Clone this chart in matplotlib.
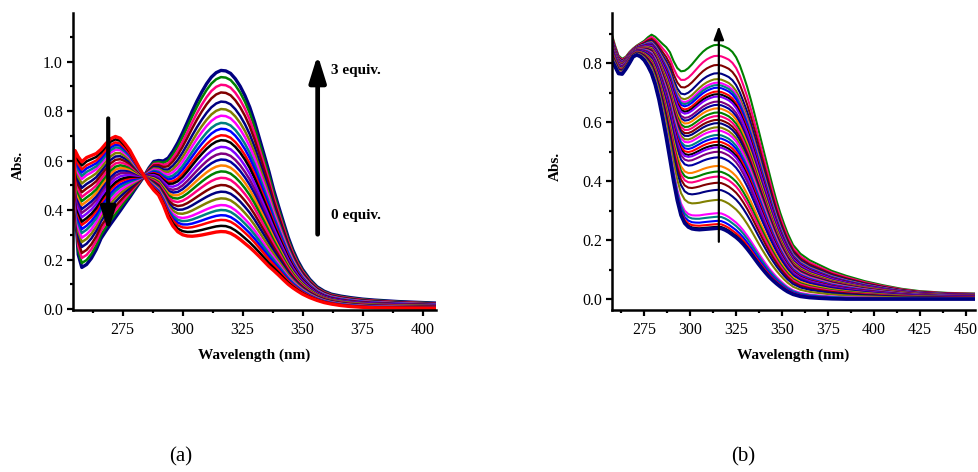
import matplotlib
matplotlib.use("Agg")
import matplotlib.pyplot as plt
import numpy as np
from matplotlib.ticker import FormatStrFormatter, FixedLocator

plt.rcParams['font.family'] = ['Liberation Serif', 'DejaVu Serif']

# ---------------- data: panel (a) ----------------
wl_a = [254.2, 255.2, 256.5, 258, 260, 262, 264, 266, 268, 270,
        272, 274, 276, 278, 280, 282, 284, 286, 288, 290,
        292, 294, 296, 298, 300, 302, 304, 306, 308, 310,
        312, 314, 316, 318, 320, 322, 324, 326, 328, 330,
        332, 334, 336, 338, 340, 342, 344, 346, 348, 350,
        353, 356, 359, 362, 366, 370, 375, 380, 390, 405.5]
# 0 equiv. spectrum (red, lowest at 316 nm)
abs_a_0eq = [0.32, 0.64, 0.615, 0.595, 0.612, 0.62, 0.628, 0.645, 0.668, 0.688,
             0.697, 0.690, 0.668, 0.642, 0.606, 0.570, 0.537, 0.505, 0.480, 0.46,
             0.42, 0.37, 0.335, 0.312, 0.300, 0.295, 0.294, 0.296, 0.299, 0.303,
             0.307, 0.311, 0.313, 0.312, 0.306, 0.295, 0.281, 0.265, 0.249, 0.231,
             0.212, 0.192, 0.172, 0.155, 0.137, 0.118, 0.10, 0.085, 0.072, 0.06,
             0.046, 0.035, 0.026, 0.02, 0.014, 0.01, 0.007, 0.005, 0.004, 0.003]
# 3 equiv. spectrum (navy, highest at 316 nm)
abs_a_3eq = [0.70, 0.42, 0.22, 0.168, 0.18, 0.205, 0.24, 0.285, 0.315, 0.343,
             0.37, 0.397, 0.425, 0.452, 0.481, 0.509, 0.537, 0.570, 0.596, 0.600,
             0.598, 0.610, 0.638, 0.672, 0.712, 0.755, 0.799, 0.840, 0.877, 0.910,
             0.937, 0.955, 0.964, 0.962, 0.952, 0.930, 0.900, 0.862, 0.815, 0.757,
             0.69, 0.623, 0.555, 0.48, 0.415, 0.352, 0.29, 0.238, 0.195, 0.16,
             0.12, 0.09, 0.072, 0.06, 0.052, 0.046, 0.04, 0.036, 0.03, 0.024]
# absorbance of every titration curve at 316 nm (bottom -> top)
peak_a = [0.313, 0.336, 0.360, 0.379, 0.400, 0.420, 0.447, 0.474, 0.501, 0.530,
          0.556, 0.580, 0.604, 0.628, 0.655, 0.682, 0.702, 0.728, 0.752, 0.781,
          0.808, 0.838, 0.875, 0.906, 0.937, 0.964]

# ---------------- data: panel (b) ----------------
wl_b = [257.3, 259, 261, 263, 265, 267, 269, 271, 273, 275,
        277, 279, 281, 283, 285, 287, 289, 291, 293, 295,
        297, 299, 301, 303, 305, 307, 309, 311, 313, 315,
        317, 319, 321, 323, 325, 327, 329, 331, 333, 335,
        337, 339, 341, 343, 345, 347, 349, 351, 353, 356,
        360, 365, 370, 377, 385, 395, 405, 415, 425, 440, 455]
abs_b_start = [0.81, 0.79, 0.765, 0.763, 0.78, 0.80, 0.822, 0.828, 0.822, 0.81,
               0.79, 0.765, 0.727, 0.677, 0.615, 0.548, 0.475, 0.40, 0.335, 0.285,
               0.258, 0.245, 0.239, 0.237, 0.236, 0.237, 0.238, 0.239, 0.240, 0.241,
               0.240, 0.235, 0.228, 0.219, 0.21, 0.199, 0.186, 0.171, 0.155, 0.138,
               0.121, 0.105, 0.09, 0.076, 0.064, 0.053, 0.043, 0.034, 0.026, 0.017,
               0.01, 0.006, 0.004, 0.002, 0.001, 0.001, 0.001, 0.001, 0.001, 0.001, 0.001]
abs_b_end = [0.90, 0.862, 0.826, 0.815, 0.822, 0.838, 0.85, 0.86, 0.868, 0.876,
             0.888, 0.897, 0.89, 0.878, 0.866, 0.855, 0.838, 0.808, 0.785, 0.774,
             0.776, 0.785, 0.798, 0.813, 0.828, 0.841, 0.851, 0.858, 0.863, 0.864,
             0.862, 0.857, 0.851, 0.84, 0.822, 0.795, 0.76, 0.722, 0.678, 0.63,
             0.58, 0.53, 0.48, 0.43, 0.381, 0.335, 0.294, 0.258, 0.225, 0.185,
             0.155, 0.133, 0.118, 0.097, 0.08, 0.062, 0.048, 0.036, 0.028, 0.022, 0.02]
peak_b = [0.241, 0.246, 0.255, 0.266, 0.280, 0.292, 0.337, 0.371, 0.395, 0.416,
          0.433, 0.452, 0.481, 0.500, 0.515, 0.523, 0.534, 0.546, 0.557, 0.572,
          0.583, 0.597, 0.608, 0.621, 0.633, 0.647, 0.659, 0.670, 0.687, 0.695,
          0.704, 0.717, 0.726, 0.734, 0.746, 0.766, 0.794, 0.825, 0.862]

cycle = ['#000000', '#FF0000', '#0000FF', '#008080', '#FF00FF', '#808000',
         '#000080', '#800000', '#FF0080', '#008000', '#FF8000', '#0000A0',
         '#800080', '#8000FF']

W, H = 979, 472
fig = plt.figure(figsize=(W / 100, H / 100), dpi=100)
axa = fig.add_axes([72.7 / W, 1 - 310 / H, 363 / W, 297 / H])
axb = fig.add_axes([611.7 / W, 1 - 310 / H, 363.3 / W, 297 / H])


def family(lo, hi, peaks, idx):
    lo = np.asarray(lo); hi = np.asarray(hi)
    p0, p1 = lo[idx], hi[idx]
    out = []
    for p in peaks:
        f = (p - p0) / (p1 - p0)
        out.append((1 - f) * lo + f * hi)
    return out


# panel (a)
curves_a = family(abs_a_0eq, abs_a_3eq, peak_a, wl_a.index(316))
n = len(curves_a)
cols_a = ['#FF0000'] + [cycle[(i - 1) % len(cycle)] for i in range(1, n - 1)] + ['#000080']
for i in reversed(range(n)):
    lw = 2.4 if i in (0, n - 1) else 1.8
    axa.plot(wl_a, curves_a[i], color=cols_a[i], lw=lw, solid_joinstyle='round', zorder=2)

# panel (b)
curves_b = family(abs_b_start, abs_b_end, peak_b, wl_b.index(315))
m = len(curves_b)
cols_b = ['#000080'] + [cycle[(i - 1) % len(cycle)] for i in range(1, m)]
for i in reversed(range(m)):
    lw = 2.6 if i == 0 else 1.5
    axb.plot(wl_b, curves_b[i], color=cols_b[i], lw=lw, solid_joinstyle='round', zorder=2)


def style(ax, xlim, ylim, xmaj, xmin, ymaj, ymin):
    ax.set_xlim(*xlim)
    ax.set_ylim(*ylim)
    for s in ('top', 'right'):
        ax.spines[s].set_visible(False)
    for s in ('left', 'bottom'):
        ax.spines[s].set_linewidth(1.8)
    ax.xaxis.set_major_locator(FixedLocator(xmaj))
    ax.xaxis.set_minor_locator(FixedLocator(xmin))
    ax.yaxis.set_major_locator(FixedLocator(ymaj))
    ax.yaxis.set_minor_locator(FixedLocator(ymin))
    ax.yaxis.set_major_formatter(FormatStrFormatter('%.1f'))
    ax.tick_params(which='major', direction='out', length=4.5, width=1.6,
                   labelsize=11.5, pad=2.5)
    ax.tick_params(which='minor', direction='out', length=2.5, width=1.6)
    ax.tick_params(axis='x', which='major', pad=4)


style(axa, (254.2, 405.5), (-0.004, 1.196),
      [275, 300, 325, 350, 375, 400], [262.5, 287.5, 312.5, 337.5, 362.5, 387.5],
      [0.0, 0.2, 0.4, 0.6, 0.8, 1.0], [0.1, 0.3, 0.5, 0.7, 0.9, 1.1])
style(axb, (257.3, 455), (-0.036, 0.97),
      [275, 300, 325, 350, 375, 400, 425, 450],
      [262.5, 287.5, 312.5, 337.5, 362.5, 387.5, 412.5, 437.5],
      [0.0, 0.2, 0.4, 0.6, 0.8], [0.1, 0.3, 0.5, 0.7, 0.9])

# arrows and annotations
axa.annotate('', xy=(269, 0.315), xytext=(269, 0.770),
             arrowprops=dict(arrowstyle='-|>,head_width=0.45,head_length=1.4',
                             lw=3.0, color='k', shrinkA=0, shrinkB=0,
                             mutation_scale=10), zorder=5)
axa.annotate('', xy=(356.3, 1.027), xytext=(356.3, 0.302),
             arrowprops=dict(arrowstyle='-|>,head_width=0.5,head_length=1.6',
                             lw=3.4, color='k', shrinkA=0, shrinkB=0,
                             mutation_scale=10), zorder=5)
axa.text(362, 0.964, '3 equiv.', fontsize=11, fontweight='bold', ha='left', va='center')
axa.text(362, 0.376, '0 equiv.', fontsize=11, fontweight='bold', ha='left', va='center')
axb.annotate('', xy=(315.6, 0.926), xytext=(315.6, 0.195),
             arrowprops=dict(arrowstyle='-|>,head_width=0.3,head_length=0.8',
                             lw=1.6, color='k', shrinkA=0, shrinkB=0,
                             mutation_scale=10), zorder=5)

fig.text(18 / W, 1 - 165 / H, 'Abs.', rotation=90, fontsize=11, fontweight='bold',
         ha='center', va='center')
fig.text(555 / W, 1 - 166 / H, 'Abs.', rotation=90, fontsize=11, fontweight='bold',
         ha='center', va='center')
fig.text(254 / W, 1 - 355 / H, 'Wavelength (nm)', fontsize=11, fontweight='bold',
         ha='center', va='center')
fig.text(793 / W, 1 - 355 / H, 'Wavelength (nm)', fontsize=11, fontweight='bold',
         ha='center', va='center')
fig.text(181 / W, 1 - 457 / H, '(a)', fontsize=15, ha='center', va='center')
fig.text(743 / W, 1 - 457 / H, '(b)', fontsize=15, ha='center', va='center')

fig.savefig('out.png', dpi=100)
